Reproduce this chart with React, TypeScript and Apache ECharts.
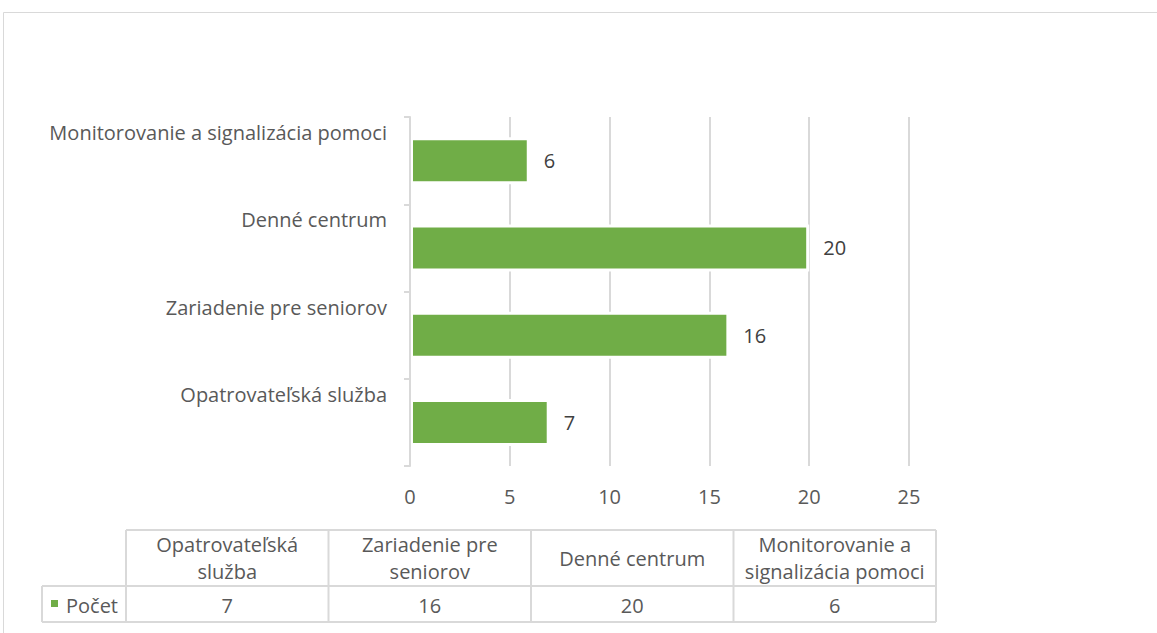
import React, { useEffect, useRef } from 'react';
import * as echarts from 'echarts';

const categories = [
  'Opatrovateľská služba',
  'Zariadenie pre seniorov',
  'Denné centrum',
  'Monitorovanie a signalizácia pomoci',
];
const values = [7, 16, 20, 6];
const tableHeaders = [
  'Opatrovateľská\nslužba',
  'Zariadenie pre\nseniorov',
  'Denné centrum',
  'Monitorovanie a\nsignalizácia pomoci',
];
const seriesName = 'Počet';
const axisMin = 0;
const axisMax = 25;
const axisInterval = 5;

const FONT = '"Open Sans", sans-serif';
const FS = 20;
const GREEN = '#70ad47';
const GRID = '#d9d9d9';
const TXT = '#595959';

export default function App() {
  const ref = useRef<HTMLDivElement>(null);
  useEffect(() => {
    document.body.style.margin = '0';
    const chart = echarts.init(ref.current!, null, { renderer: 'svg' });

    // table layout
    const tTop = 530, tMid = 586, tBot = 622, labL = 42, colL = 126, colW = 202.5;
    const colR = colL + colW * tableHeaders.length;
    const lineStyle = { stroke: GRID, lineWidth: 2 };
    const g: any[] = [];
    // outer chart border
    g.push({ type: 'rect', shape: { x: 3.5, y: 12.5, width: 1300, height: 800 }, style: { fill: 'none', stroke: GRID, lineWidth: 1 }, silent: true });
    g.push({ type: 'line', shape: { x1: colL, y1: tTop, x2: colR, y2: tTop }, style: lineStyle });
    g.push({ type: 'line', shape: { x1: labL, y1: tMid, x2: colR, y2: tMid }, style: lineStyle });
    g.push({ type: 'line', shape: { x1: labL, y1: tBot, x2: colR, y2: tBot }, style: lineStyle });
    g.push({ type: 'line', shape: { x1: labL, y1: tMid, x2: labL, y2: tBot }, style: lineStyle });
    for (let i = 0; i <= tableHeaders.length; i++) {
      const x = colL + colW * i;
      g.push({ type: 'line', shape: { x1: x, y1: tTop, x2: x, y2: tBot }, style: lineStyle });
    }
    tableHeaders.forEach((h, i) => {
      g.push({
        type: 'text', x: colL + colW * (i + 0.5), y: (tTop + tMid) / 2,
        style: { text: h, fill: TXT, font: `${FS}px ${FONT}`, align: 'center', verticalAlign: 'middle', lineHeight: 27 },
      });
      g.push({
        type: 'text', x: colL + colW * (i + 0.5), y: (tMid + tBot) / 2 + 1,
        style: { text: String(values[i]), fill: TXT, font: `${FS}px ${FONT}`, align: 'center', verticalAlign: 'middle' },
      });
    });
    g.push({ type: 'rect', shape: { x: 51, y: 600, width: 7, height: 7 }, style: { fill: GREEN } });
    g.push({
      type: 'text', x: 66, y: (tMid + tBot) / 2 + 1,
      style: { text: seriesName, fill: TXT, font: `${FS}px ${FONT}`, align: 'left', verticalAlign: 'middle' },
    });

    chart.setOption({
      animation: false,
      grid: { left: 410, top: 117, right: 248, bottom: 167, containLabel: false },
      xAxis: {
        type: 'value', min: axisMin, max: axisMax, interval: axisInterval,
        axisLine: { show: false }, axisTick: { show: false },
        splitLine: { show: true, lineStyle: { color: GRID, width: 2 } },
        axisLabel: { color: TXT, fontFamily: FONT, fontSize: FS, margin: 20 },
      },
      yAxis: {
        type: 'category', data: categories, z: 5,
        axisLine: { show: true, lineStyle: { color: GRID, width: 2 } },
        axisTick: { show: true, length: 6, lineStyle: { color: GRID, width: 2 } },
        axisLabel: {
          color: TXT, fontFamily: FONT, fontSize: FS, margin: 23,
          verticalAlign: 'bottom', lineHeight: 56,
        },
      },
      series: [{
        type: 'bar', name: seriesName, data: values, barWidth: 47,
        itemStyle: { color: GREEN, borderColor: '#ffffff', borderWidth: 3 },
        label: { show: true, position: 'right', distance: 14, color: '#404040', fontFamily: FONT, fontSize: FS },
      }],
      graphic: g,
    });
    return () => chart.dispose();
  }, []);
  return <div ref={ref} style={{ position: 'absolute', left: 0, top: 0, width: 1157, height: 633 }} />;
}
